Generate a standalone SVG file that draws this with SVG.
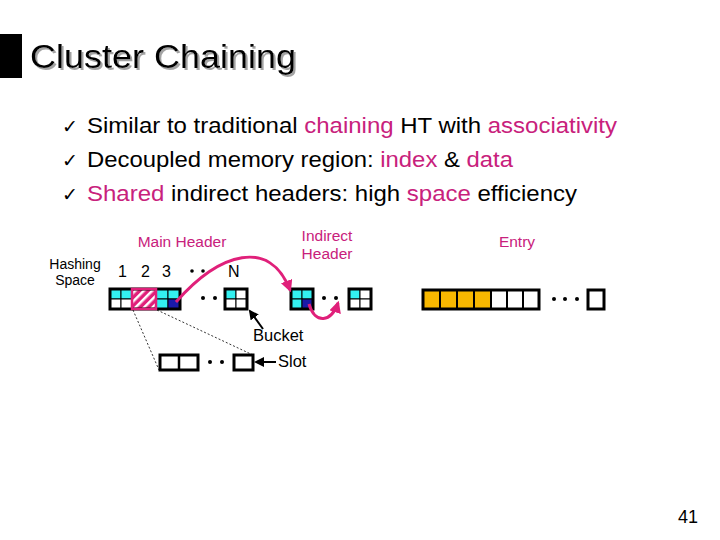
<svg xmlns="http://www.w3.org/2000/svg" width="720" height="540" viewBox="0 0 720 540">
<style>
  .t { font-family: "Liberation Sans", Arial, sans-serif; fill: #000; }
  .m { fill: #c8217c; }
  .frame { fill: none; stroke: #000; stroke-width: 3; }
  .cell { stroke: #000; stroke-width: 1; }
  .cy { fill: #33f0f0; }
  .wh { fill: #fff; }
  .db { fill: #1a1aa8; }
  .or { fill: #f8b800; }
  .dot { fill: #000; }
  .mag { fill: none; stroke: #e0207a; stroke-width: 3; }
  .blk { fill: none; stroke: #000; stroke-width: 2; }
  .dash { fill: none; stroke: #000; stroke-width: 0.8; stroke-dasharray: 2 2; }
  .chk { font-family: "DejaVu Sans", sans-serif; font-size: 19px; fill: #000; }
</style>
<defs>
  <pattern id="hatch" width="6" height="6" patternUnits="userSpaceOnUse" patternTransform="rotate(45)">
    <rect width="6" height="6" fill="#e0207a"/>
    <rect x="0" width="2.5" height="6" fill="#fff"/>
  </pattern>
  <filter id="shadow" x="-5%" y="-20%" width="110%" height="140%">
    <feDropShadow dx="2" dy="2" stdDeviation="0.6" flood-color="#999" flood-opacity="0.9"/>
  </filter>
  <marker id="am" viewBox="0 0 10 10" refX="8" refY="5" markerWidth="4" markerHeight="4" orient="auto">
    <path d="M0,0 L10,5 L0,10 z" fill="#e0207a"/>
  </marker>
  <marker id="ab" viewBox="0 0 10 10" refX="8" refY="5" markerWidth="5" markerHeight="5" orient="auto">
    <path d="M0,0 L10,5 L0,10 z" fill="#000"/>
  </marker>
</defs>
<rect width="720" height="540" fill="#fff"/>

<g id="title">
  <rect x="0" y="34" width="22" height="44" fill="#000"/>
  <text x="30" y="68" class="t" font-size="34" textLength="266" lengthAdjust="spacingAndGlyphs" filter="url(#shadow)">Cluster Chaining</text>
</g>

<g id="bullets">
  <text x="62" y="133" class="chk">✓</text>
  <text x="87" y="133" class="t" font-size="22" textLength="530" lengthAdjust="spacingAndGlyphs">Similar to traditional <tspan class="m">chaining</tspan> HT with <tspan class="m">associativity</tspan></text>
  <text x="62" y="167" class="chk">✓</text>
  <text x="87" y="167" class="t" font-size="22" textLength="426" lengthAdjust="spacingAndGlyphs">Decoupled memory region: <tspan class="m">index</tspan> &amp; <tspan class="m">data</tspan></text>
  <text x="62" y="201" class="chk">✓</text>
  <text x="87" y="201" class="t" font-size="22" textLength="490" lengthAdjust="spacingAndGlyphs"><tspan class="m">Shared</tspan> indirect headers: high <tspan class="m">space</tspan> efficiency</text>
</g>

<g id="labels">
  <text x="182" y="247" text-anchor="middle" class="t m" font-size="15.5">Main Header</text>
  <text x="327" y="241" text-anchor="middle" class="t m" font-size="15.5">Indirect</text>
  <text x="327" y="259" text-anchor="middle" class="t m" font-size="15.5">Header</text>
  <text x="517" y="247" text-anchor="middle" class="t m" font-size="15.5">Entry</text>
  <text x="75" y="269" text-anchor="middle" font-size="14" class="t">Hashing</text>
  <text x="75" y="285" text-anchor="middle" font-size="14" class="t">Space</text>
  <text x="118" y="277" class="t" font-size="16">1</text>
  <text x="141" y="277" class="t" font-size="16">2</text>
  <text x="162" y="277" class="t" font-size="16">3</text>
  <circle cx="192" cy="271" r="1.8" class="dot"/>
  <circle cx="203" cy="271" r="1.8" class="dot"/>
  <text x="228" y="277" class="t" font-size="16">N</text>
  <text x="253" y="341" class="t" font-size="16.5">Bucket</text>
  <text x="278" y="367" class="t" font-size="16.5">Slot</text>
  <text x="678" y="523" class="t" font-size="18">41</text>
</g>

<g id="main-header">
  <rect x="110" y="289" width="11" height="10" class="cell cy"/>
  <rect x="121" y="289" width="11" height="10" class="cell cy"/>
  <rect x="110" y="299" width="11" height="10" class="cell wh"/>
  <rect x="121" y="299" width="11" height="10" class="cell wh"/>
  <rect x="132" y="289" width="24" height="20" fill="url(#hatch)" stroke="#e0207a" stroke-width="2"/>
  <rect x="156" y="289" width="12" height="10" class="cell cy"/>
  <rect x="168" y="289" width="12" height="10" class="cell cy"/>
  <rect x="156" y="299" width="12" height="10" class="cell cy"/>
  <rect x="168" y="299" width="12" height="10" class="cell db"/>
  <rect x="110" y="289" width="70" height="20" class="frame"/>
  <rect x="132" y="289" width="24" height="20" fill="none" stroke="#e0207a" stroke-width="2.5"/>
  <circle cx="203" cy="298" r="2" class="dot"/>
  <circle cx="215" cy="298" r="2" class="dot"/>
  <circle cx="227" cy="298" r="2" class="dot"/>
  <rect x="225" y="289" width="11" height="10" class="cell cy"/>
  <rect x="236" y="289" width="11" height="10" class="cell wh"/>
  <rect x="225" y="299" width="11" height="10" class="cell wh"/>
  <rect x="236" y="299" width="11" height="10" class="cell wh"/>
  <rect x="225" y="289" width="22" height="20" class="frame"/>
</g>

<g id="indirect-header">
  <rect x="291" y="289" width="11" height="10" class="cell cy"/>
  <rect x="302" y="289" width="11" height="10" class="cell cy"/>
  <rect x="291" y="299" width="11" height="10" class="cell cy"/>
  <rect x="302" y="299" width="11" height="10" class="cell db"/>
  <rect x="291" y="289" width="22" height="20" class="frame"/>
  <circle cx="324" cy="298" r="2" class="dot"/>
  <circle cx="336" cy="298" r="2" class="dot"/>
  <rect x="349" y="289" width="11" height="10" class="cell cy"/>
  <rect x="360" y="289" width="11" height="10" class="cell wh"/>
  <rect x="349" y="299" width="11" height="10" class="cell wh"/>
  <rect x="360" y="299" width="11" height="10" class="cell wh"/>
  <rect x="349" y="289" width="22" height="20" class="frame"/>
</g>

<g id="entry">
  <rect x="423" y="290" width="17" height="19" class="or"/>
  <rect x="440" y="290" width="17" height="19" class="or"/>
  <rect x="457" y="290" width="17" height="19" class="or"/>
  <rect x="474" y="290" width="17" height="19" class="or"/>
  <rect x="491" y="290" width="16" height="19" class="wh"/>
  <rect x="507" y="290" width="16" height="19" class="wh"/>
  <rect x="523" y="290" width="16" height="19" class="wh"/>
  <path d="M440,290V309M457,290V309M474,290V309M491,290V309M507,290V309M523,290V309" stroke="#000" stroke-width="2"/>
  <rect x="423" y="290" width="116" height="19" class="frame"/>
  <circle cx="554" cy="299" r="2" class="dot"/>
  <circle cx="565" cy="299" r="2" class="dot"/>
  <circle cx="577" cy="299" r="2" class="dot"/>
  <rect x="588" y="290" width="16" height="19" class="frame"/>
</g>

<g id="slots">
  <rect x="160" y="355" width="38" height="15" class="frame" fill="#fff"/>
  <path d="M179,355V370" stroke="#000" stroke-width="2.5"/>
  <circle cx="210" cy="362" r="2" class="dot"/>
  <circle cx="222" cy="362" r="2" class="dot"/>
  <rect x="234" y="355" width="19" height="15" class="frame"/>
</g>

<g id="connectors">
  <path d="M133,310 L159,370" class="dash"/>
  <path d="M157,310 L253,355" class="dash"/>
  <path d="M176,302 C220,252 270,238 290,290" class="mag" marker-end="url(#am)"/>
  <path d="M309,304 C315,325 332,322 338,303" class="mag" marker-end="url(#am)"/>
  <path d="M263,329 L250,311" class="blk" stroke-width="2.5" marker-end="url(#ab)"/>
  <path d="M276,362 L256,362" class="blk" stroke-width="2.5" marker-end="url(#ab)"/>
</g>
</svg>
